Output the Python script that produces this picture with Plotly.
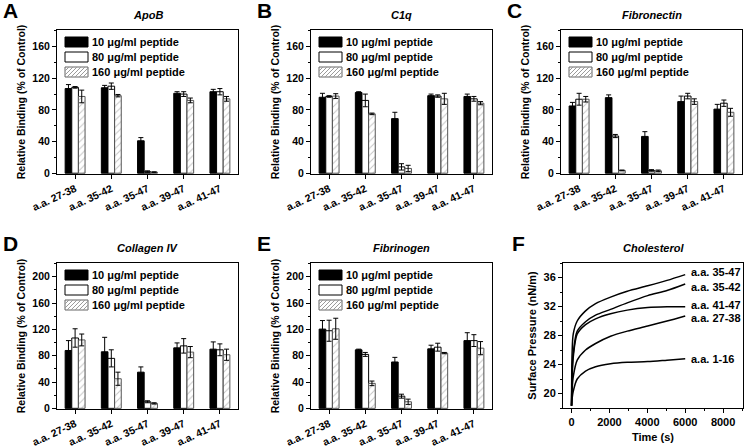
import plotly.graph_objects as go

W, H = 745, 447

categories = ["a.a. 27-38", "a.a. 35-42", "a.a. 35-47", "a.a. 39-47", "a.a. 41-47"]
doses = ["10 μg/ml peptide", "80 μg/ml peptide", "160 μg/ml peptide"]

# A - ApoB
apob_10 = [107, 108, 41, 101, 103]
apob_10_err = [5, 3, 4, 2, 3]
apob_80 = [108.5, 110, 2, 100, 103]
apob_80_err = [1, 4, 1, 3, 4]
apob_160 = [97, 98, 1.3, 92, 94]
apob_160_err = [8, 1.5, 0.5, 3, 3]

# B - C1q
c1q_10 = [96, 102, 69, 98, 97]
c1q_10_err = [5, 1, 8, 2, 3]
c1q_80 = [97, 92, 8, 97.5, 94]
c1q_80_err = [1, 8, 4, 1.5, 3]
c1q_160 = [97.5, 75, 6, 94, 88.5]
c1q_160_err = [3, 1, 4, 7, 2]

# C - Fibronectin
fn_10 = [85, 95.5, 46.5, 90.5, 81]
fn_10_err = [4.5, 3.5, 6, 7, 6]
fn_80 = [93.5, 47, 3.5, 97.5, 88.5]
fn_80_err = [7.5, 2, 1, 3.5, 4]
fn_160 = [93.5, 3.5, 3, 90.5, 77]
fn_160_err = [3.5, 0.5, 1, 3.5, 5]

# D - Collagen IV
col_10 = [88, 86, 55, 92, 90]
col_10_err = [15, 22, 8, 7.5, 11]
col_80 = [107, 76, 10, 95, 89]
col_80_err = [14, 13, 1.5, 11, 9]
col_160 = [104, 45, 7.5, 85.5, 81.5]
col_160_err = [9, 10, 1, 8.5, 8.5]

# E - Fibrinogen
fg_10 = [120.5, 89, 70.5, 90.5, 103]
fg_10_err = [13, 1, 7, 5.5, 12]
fg_80 = [118, 82, 18.5, 93, 103]
fg_80_err = [16, 3, 3, 6, 9]
fg_160 = [121, 38, 10, 84, 91.5]
fg_160_err = [16, 3.5, 4, 1, 10]

# F - Cholesterol surface pressure
time_s = [0, 30, 90, 300, 740, 1270, 2060, 2940, 4020, 5040, 6000]
sp_35_47 = [18.3, 25.5, 28.2, 30.0, 31.4, 32.4, 33.3, 34.1, 34.85, 35.6, 36.4]
sp_35_42 = [18.3, 22.5, 25.5, 28.6, 29.9, 30.8, 31.6, 32.5, 33.5, 34.2, 35.1]
sp_41_47 = [18.3, 22.0, 25.0, 28.2, 29.5, 30.3, 31.0, 31.5, 31.85, 31.95, 31.95]
sp_27_38 = [18.3, 20.5, 22.3, 24.6, 26.0, 26.9, 27.9, 28.6, 29.3, 30.0, 30.7]
sp_1_16 = [18.3, 19.3, 20.3, 22.0, 23.1, 23.7, 24.1, 24.3, 24.4, 24.6, 24.8]


def fx(x):
    return x / W


def fy(y):
    return 1 - y / H


FONT = "Arial, Liberation Sans, sans-serif"

bar_panels = [
    ("A", "ApoB", (57, 238, 30, 174), [-1, 181], [apob_10, apob_80, apob_160],
     [apob_10_err, apob_80_err, apob_160_err]),
    ("B", "C1q", (311, 492, 30, 174), [-1, 181], [c1q_10, c1q_80, c1q_160],
     [c1q_10_err, c1q_80_err, c1q_160_err]),
    ("C", "Fibronectin", (561, 742, 30, 174), [-1, 181], [fn_10, fn_80, fn_160],
     [fn_10_err, fn_80_err, fn_160_err]),
    ("D", "Collagen IV", (57, 238, 263, 409), [-1, 221], [col_10, col_80, col_160],
     [col_10_err, col_80_err, col_160_err]),
    ("E", "Fibrinogen", (311, 492, 263, 409), [-1, 221], [fg_10, fg_80, fg_160],
     [fg_10_err, fg_80_err, fg_160_err]),
]

bar_styles = [
    dict(color="black", line=dict(color="black", width=1)),
    dict(color="white", line=dict(color="black", width=1)),
    dict(color="white", line=dict(color="#555555", width=1),
         pattern=dict(shape="/", fgcolor="#8c8c8c", bgcolor="white", size=5, solidity=0.2)),
]

fig = go.Figure()
annotations = []
shapes = []
layout_axes = {}


def hatch_path(x0, y0, x1, y1, step=4):
    parts = []
    c = x0 + y0 + step
    while c < x1 + y1:
        xs = max(x0, c - y1)
        xe = min(x1, c - y0)
        if xs < xe:
            parts.append(f"M{fx(xs):.5f},{fy(c - xs):.5f} L{fx(xe):.5f},{fy(c - xe):.5f}")
        c += step
    return " ".join(parts)


for i, (letter, title, box, yrange, vals, errs) in enumerate(bar_panels, start=1):
    x0, x1, y0, y1 = box
    xa, ya = f"x{i}", f"y{i}"
    for j in range(3):
        fig.add_trace(go.Bar(
            x=categories, y=vals[j], name=doses[j],
            xaxis=xa, yaxis=ya, showlegend=False,
            marker=bar_styles[j],
            error_y=dict(type="data", array=errs[j], color="black", thickness=1, width=2.5),
        ))
    layout_axes[f"xaxis{i}"] = dict(
        domain=[fx(x0), fx(x1)], anchor=ya, type="category", range=[-0.5, 4.5],
        automargin=False,
        showline=True, mirror=True, linecolor="black", linewidth=1, showgrid=False,
        ticks="outside", ticklen=4, tickcolor="black", tickangle=-25,
        tickfont=dict(family=FONT, size=10.5, color="black", weight="bold"),
    )
    layout_axes[f"yaxis{i}"] = dict(
        domain=[fy(y1), fy(y0)], anchor=xa, range=yrange, dtick=40,
        automargin=False,
        showline=True, mirror=True, linecolor="black", linewidth=1, showgrid=False,
        zeroline=False, ticks="outside", ticklen=4, tickcolor="black",
        minor=dict(dtick=20, ticks="outside", ticklen=2, tickcolor="black"),
        tickfont=dict(family=FONT, size=10.5, color="black", weight="bold"),
        title=dict(text="Relative Binding (% of Control)", standoff=4,
                   font=dict(family=FONT, size=10.5, color="black", weight="bold")),
    )
    # panel letter and title
    annotations.append(dict(x=fx(x0 - 56), y=fy(y0 - 20), xref="paper", yref="paper",
                            text=letter, showarrow=False, xanchor="left", yanchor="middle",
                            font=dict(family=FONT, size=21, color="black", weight="bold")))
    annotations.append(dict(x=fx((x0 + x1) / 2), y=fy(y0 - 15), xref="paper", yref="paper",
                            text=title, showarrow=False, xanchor="center", yanchor="middle",
                            font=dict(family=FONT, size=11, color="black", weight="bold",
                                      style="italic")))
    # custom legend
    for j in range(3):
        sx0, sx1 = x0 + 8, x0 + 31
        sy0 = y0 + 7 + 15 * j
        sy1 = sy0 + 10
        if j == 0:
            shapes.append(dict(type="rect", xref="paper", yref="paper",
                               x0=fx(sx0), x1=fx(sx1), y0=fy(sy1), y1=fy(sy0),
                               fillcolor="black", line=dict(color="black", width=1)))
        elif j == 1:
            shapes.append(dict(type="rect", xref="paper", yref="paper",
                               x0=fx(sx0), x1=fx(sx1), y0=fy(sy1), y1=fy(sy0),
                               fillcolor="white", line=dict(color="black", width=1)))
        else:
            shapes.append(dict(type="rect", xref="paper", yref="paper",
                               x0=fx(sx0), x1=fx(sx1), y0=fy(sy1), y1=fy(sy0),
                               fillcolor="white", line=dict(color="#666666", width=1)))
            shapes.append(dict(type="path", xref="paper", yref="paper",
                               path=hatch_path(sx0, sy0, sx1, sy1),
                               line=dict(color="#9a9a9a", width=1)))
        annotations.append(dict(x=fx(sx1 + 2), y=fy((sy0 + sy1) / 2), xref="paper", yref="paper",
                                text=doses[j], showarrow=False, xanchor="left", yanchor="middle",
                                font=dict(family=FONT, size=11, color="black", weight="bold")))

# Panel F
fx0, fx1, fy0, fy1 = 563, 743, 263, 408
curves = [
    ("a.a. 35-47", sp_35_47, 3),
    ("a.a. 35-42", sp_35_42, -3),
    ("a.a. 41-47", sp_41_47, 2),
    ("a.a. 27-38", sp_27_38, -2),
    ("a.a. 1-16", sp_1_16, 0),
]
for name, vals, shift in curves:
    fig.add_trace(go.Scatter(x=time_s, y=vals, mode="lines", name=name, showlegend=False,
                             xaxis="x6", yaxis="y6",
                             line=dict(color="black", width=1.5, shape="spline", smoothing=0.8)))
    annotations.append(dict(x=time_s[-1], y=vals[-1], xref="x6", yref="y6", text=name,
                            showarrow=False, xanchor="left", yanchor="middle",
                            xshift=4, yshift=shift,
                            font=dict(family=FONT, size=11, color="black", weight="bold")))

layout_axes["xaxis6"] = dict(
    domain=[fx(fx0), fx(fx1)], anchor="y6", range=[-450, 9050], dtick=2000,
    automargin=False,
    showline=True, mirror=True, linecolor="black", linewidth=1, showgrid=False, zeroline=False,
    ticks="outside", ticklen=4, tickcolor="black",
    minor=dict(dtick=1000, ticks="outside", ticklen=2, tickcolor="black"),
    tickfont=dict(family=FONT, size=11, color="black", weight="bold"),
    title=dict(text="Time (s)", standoff=6,
               font=dict(family=FONT, size=11, color="black", weight="bold")),
)
layout_axes["yaxis6"] = dict(
    domain=[fy(fy1), fy(fy0)], anchor="x6", range=[18, 38], dtick=4,
    automargin=False,
    showline=True, mirror=True, linecolor="black", linewidth=1, showgrid=False, zeroline=False,
    ticks="outside", ticklen=4, tickcolor="black",
    minor=dict(dtick=2, ticks="outside", ticklen=2, tickcolor="black"),
    tickfont=dict(family=FONT, size=11, color="black", weight="bold"),
    title=dict(text="Surface Pressure (nN/m)", standoff=4,
               font=dict(family=FONT, size=11, color="black", weight="bold")),
)
annotations.append(dict(x=fx(fx0 - 53), y=fy(fy0 - 20), xref="paper", yref="paper",
                        text="F", showarrow=False, xanchor="left", yanchor="middle",
                        font=dict(family=FONT, size=21, color="black", weight="bold")))
annotations.append(dict(x=fx((fx0 + fx1) / 2), y=fy(fy0 - 15), xref="paper", yref="paper",
                        text="Cholesterol", showarrow=False, xanchor="center", yanchor="middle",
                        font=dict(family=FONT, size=11, color="black", weight="bold",
                                  style="italic")))

fig.update_layout(
    width=W, height=H,
    margin=dict(l=0, r=0, t=0, b=0, autoexpand=False),
    paper_bgcolor="white", plot_bgcolor="white",
    barmode="group", bargap=0.45, bargroupgap=0,
    font=dict(family=FONT, color="black"),
    annotations=annotations, shapes=shapes,
    **layout_axes,
)

# the page's default body margin would push the figure 8px off
fig.write_html("out.html", config={"displayModeBar": False},
               post_script="document.body.style.margin='0';")
